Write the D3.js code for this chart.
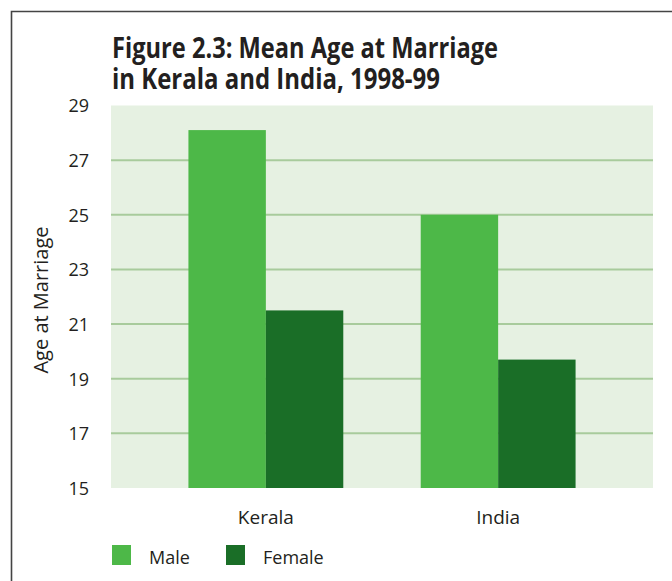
<!DOCTYPE html>
<meta charset="utf-8">
<head>
<script src="https://d3js.org/d3.v7.min.js"></script>
<style>
    body { margin: 0; background: #fff; }
    text { fill: #231f20; font-family: "Open Sans", "Noto Sans", sans-serif; }
    .title { font-weight: 700; font-size: 28px; }
    .tick text { font-size: 18px; }
</style>
</head>
<body>
<svg id="chart" width="672" height="581"></svg>

<script>
    // data
    var regions = ["Kerala", "India"];
    var series = ["Male", "Female"];
    var maleAge = [28.1, 25.0];
    var femaleAge = [21.5, 19.7];
    var yTicks = [15, 17, 19, 21, 23, 25, 27, 29];
    var colors = ["#4db848", "#1a6e27"];

    var svg = d3.select("#chart");
    var margin = { top: 105.5, left: 111, right: 19, bottom: 93 };
    var width = +svg.attr("width"), height = +svg.attr("height");
    var x0 = margin.left, x1 = width - margin.right;
    var yBottom = height - margin.bottom;

    // frame lines (top and left)
    svg.append("path")
      .attr("d", "M11.5," + height + "V11.5H" + width)
      .attr("fill", "none")
      .attr("stroke", "#444")
      .attr("stroke-width", 1.6);

    // title
    var title = svg.append("text").attr("class", "title");
    title.append("tspan").attr("x", 112).attr("y", 58)
      .attr("textLength", 386).attr("lengthAdjust", "spacingAndGlyphs")
      .text("Figure 2.3: Mean Age at Marriage");
    title.append("tspan").attr("x", 112).attr("y", 89)
      .attr("textLength", 328).attr("lengthAdjust", "spacingAndGlyphs")
      .text("in Kerala and India, 1998-99");

    var y = d3.scaleLinear().domain([15, 29]).range([yBottom, margin.top]);
    var xBand = d3.scaleBand().domain(regions).range([x0, x1]).padding(1 / 3);
    var xSub = d3.scaleBand().domain(series).range([0, xBand.bandwidth()]);

    // plot background
    svg.append("rect")
      .attr("x", x0).attr("y", y(29))
      .attr("width", x1 - x0).attr("height", y(15) - y(29))
      .attr("fill", "#e6f1e2");

    // gridlines
    svg.append("g").selectAll("line")
      .data(yTicks.filter(function(d) { return d > 15 && d < 29; }))
      .enter().append("line")
      .attr("x1", x0).attr("x2", x1)
      .attr("y1", function(d) { return y(d); })
      .attr("y2", function(d) { return y(d); })
      .attr("stroke", "#a8cb9c")
      .attr("stroke-width", 2);

    // bars
    var rows = regions.map(function(r, i) {
      return { region: r, values: [maleAge[i], femaleAge[i]] };
    });
    svg.append("g").selectAll("g")
      .data(rows)
      .enter().append("g")
      .attr("transform", function(d) { return "translate(" + xBand(d.region) + ",0)"; })
      .selectAll("rect")
      .data(function(d) { return d.values.map(function(v, j) { return { s: series[j], v: v, c: colors[j] }; }); })
      .enter().append("rect")
      .attr("x", function(d) { return xSub(d.s); })
      .attr("width", xSub.bandwidth())
      .attr("y", function(d) { return y(d.v); })
      .attr("height", function(d) { return y(15) - y(d.v); })
      .attr("fill", function(d) { return d.c; });

    // y axis
    var yAxis = svg.append("g")
      .attr("transform", "translate(" + x0 + ",0)")
      .call(d3.axisLeft(y).tickValues(yTicks).tickSize(0).tickPadding(22));
    yAxis.select(".domain").remove();
    yAxis.selectAll("text").attr("dy", "0.36em");

    // x axis
    var xAxis = svg.append("g")
      .attr("transform", "translate(0," + yBottom + ")")
      .call(d3.axisBottom(xBand).tickSize(0).tickPadding(23));
    xAxis.select(".domain").remove();
    xAxis.selectAll("text").style("font-size", "19px");

    // y label
    svg.append("text")
      .attr("transform", "translate(48,300) rotate(-90)")
      .attr("text-anchor", "middle")
      .style("font-size", "20px")
      .text("Age at Marriage");

    // legend
    var legendX = [112, 226];
    var legend = svg.append("g").selectAll("g")
      .data(series)
      .enter().append("g")
      .attr("transform", function(d, i) { return "translate(" + legendX[i] + ",545)"; });
    legend.append("rect")
      .attr("width", 19).attr("height", 20)
      .attr("fill", function(d, i) { return colors[i]; });
    legend.append("text")
      .attr("x", 37).attr("y", 19)
      .style("font-size", "18px")
      .text(function(d) { return d; });
</script>
</body>
